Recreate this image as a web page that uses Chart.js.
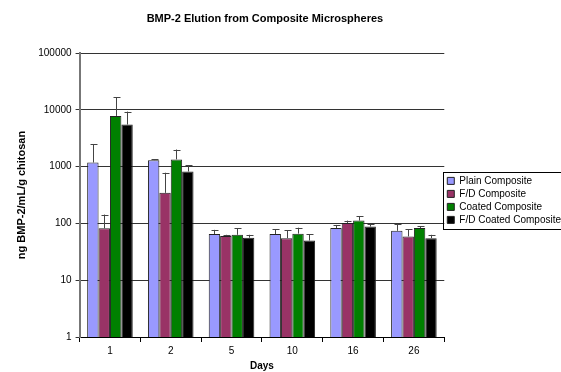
<!DOCTYPE html>
<html>
<head>
<meta charset="utf-8">
<script src="https://cdn.jsdelivr.net/npm/chart.js@4/dist/chart.umd.min.js"></script>
<style>
  html, body { margin: 0; padding: 0; background: #fff; }
  #wrap { width: 561px; height: 372px; }
</style>
</head>
<body>
<div id="wrap"><canvas id="grafico"></canvas></div>
<script>
// days sampled
const days = ['1', '2', '5', '10', '16', '26'];
const yTicks = [1, 10, 100, 1000, 10000, 100000];
const titulo = 'BMP-2 Elution from Composite Microspheres';

// ng BMP-2 / mL / g chitosan
const plain = [1180, 1300, 65, 65, 83, 74];
const plainSd = [1320, 40, 12, 14, 11, 24];
const fd = [82, 345, 60, 55, 102, 59];
const fdSd = [61, 435, 3, 20, 10, 20];
const coated = [7800, 1340, 63, 66, 112, 83];
const coatedSd = [8700, 660, 19, 18, 23, 6];
const fdCoated = [5500, 820, 56, 50, 88, 55];
const fdCoatedSd = [3800, 230, 7, 15, 10, 8];

const FONT = "'Liberation Sans', Arial, sans-serif";
Chart.defaults.font.family = FONT;
Chart.defaults.color = '#000';

function serie(label, data, sd, color) {
    return {
        label: label,
        data: data,
        sd: sd,
        backgroundColor: color,
        borderColor: '#222',
        borderWidth: 1,
        barPercentage: 1.0,
        categoryPercentage: 0.75
    };
}

// upper error bars, drawn through the y scale
const errorBars = {
    id: 'errorBars',
    afterDatasetsDraw(chart) {
        const ctx = chart.ctx;
        const y = chart.scales.y;
        ctx.save();
        ctx.strokeStyle = '#444';
        ctx.lineWidth = 1;
        chart.data.datasets.forEach((ds, i) => {
            const meta = chart.getDatasetMeta(i);
            meta.data.forEach((bar, j) => {
                const top = y.getPixelForValue(ds.data[j] + ds.sd[j]);
                const x = Math.round(bar.x) + 0.5;
                ctx.beginPath();
                ctx.moveTo(x, bar.y);
                ctx.lineTo(x, top);
                ctx.moveTo(x - 3, Math.round(top) + 0.5);
                ctx.lineTo(x + 4, Math.round(top) + 0.5);
                ctx.stroke();
            });
        });
        ctx.restore();
    }
};

// frame around the legend items + title centred over the plot
const extras = {
    id: 'extras',
    afterDraw(chart) {
        const ctx = chart.ctx;
        const area = chart.chartArea;
        ctx.save();
        ctx.fillStyle = '#000';
        ctx.font = 'bold 11px ' + FONT;
        ctx.textAlign = 'center';
        ctx.textBaseline = 'middle';
        ctx.fillText(titulo, (area.left + area.right) / 2 + 3, 19);

        const boxes = chart.legend.legendHitBoxes;
        if (boxes && boxes.length) {
            const x0 = Math.min(...boxes.map(b => b.left)) - 4;
            const y0 = Math.min(...boxes.map(b => b.top)) - 4;
            const y1 = Math.max(...boxes.map(b => b.top + b.height)) + 4;
            ctx.strokeStyle = '#000';
            ctx.lineWidth = 1;
            ctx.strokeRect(Math.round(x0) + 0.5, Math.round(y0) + 0.5,
                chart.width - Math.round(x0) + 5, Math.round(y1 - y0));
        }
        ctx.restore();
    }
};

new Chart(document.getElementById('grafico'), {
    type: 'bar',
    data: {
        labels: days,
        datasets: [
            serie('Plain Composite', plain, plainSd, '#9999FF'),
            serie('F/D Composite', fd, fdSd, '#993366'),
            serie('Coated Composite', coated, coatedSd, '#008000'),
            serie('F/D Coated Composite', fdCoated, fdCoatedSd, '#000000')
        ]
    },
    options: {
        responsive: true,
        maintainAspectRatio: false,
        animation: false,
        layout: { padding: { top: 53, right: -10, bottom: 0, left: 15 } },
        plugins: {
            title: { display: false },
            legend: {
                position: 'right',
                fullSize: false,
                title: {
                    display: true,
                    text: ' ',
                    font: { size: 9 },
                    padding: { top: 0, bottom: 0 }
                },
                labels: {
                    boxWidth: 7,
                    boxHeight: 7,
                    padding: 3,
                    font: { size: 10 },
                    color: '#000'
                }
            },
            tooltip: { enabled: false }
        },
        scales: {
            x: {
                offset: true,
                grid: {
                    display: true,
                    offset: true,
                    drawOnChartArea: false,
                    drawTicks: true,
                    tickLength: 5,
                    color: '#000'
                },
                border: { color: '#000', width: 1 },
                ticks: { font: { size: 10 }, color: '#000', padding: 3 },
                title: {
                    display: true,
                    text: 'Days',
                    font: { size: 10, weight: 'bold' },
                    padding: { top: 0, bottom: 0 }
                }
            },
            y: {
                type: 'logarithmic',
                min: 1,
                max: 100000,
                afterBuildTicks(scale) {
                    scale.ticks = yTicks.map(v => ({ value: v }));
                },
                grid: {
                    color: '#333',
                    tickLength: 4,
                    drawTicks: true
                },
                border: { color: '#777', width: 2 },
                ticks: {
                    font: { size: 10 },
                    color: '#000',
                    padding: 4,
                    callback: v => String(v)
                },
                title: {
                    display: true,
                    text: 'ng BMP-2/mL/g chitosan',
                    font: { size: 11, weight: 'bold' },
                    padding: { top: 0, bottom: 6 }
                }
            }
        }
    },
    plugins: [errorBars, extras]
});
</script>
</body>
</html>
